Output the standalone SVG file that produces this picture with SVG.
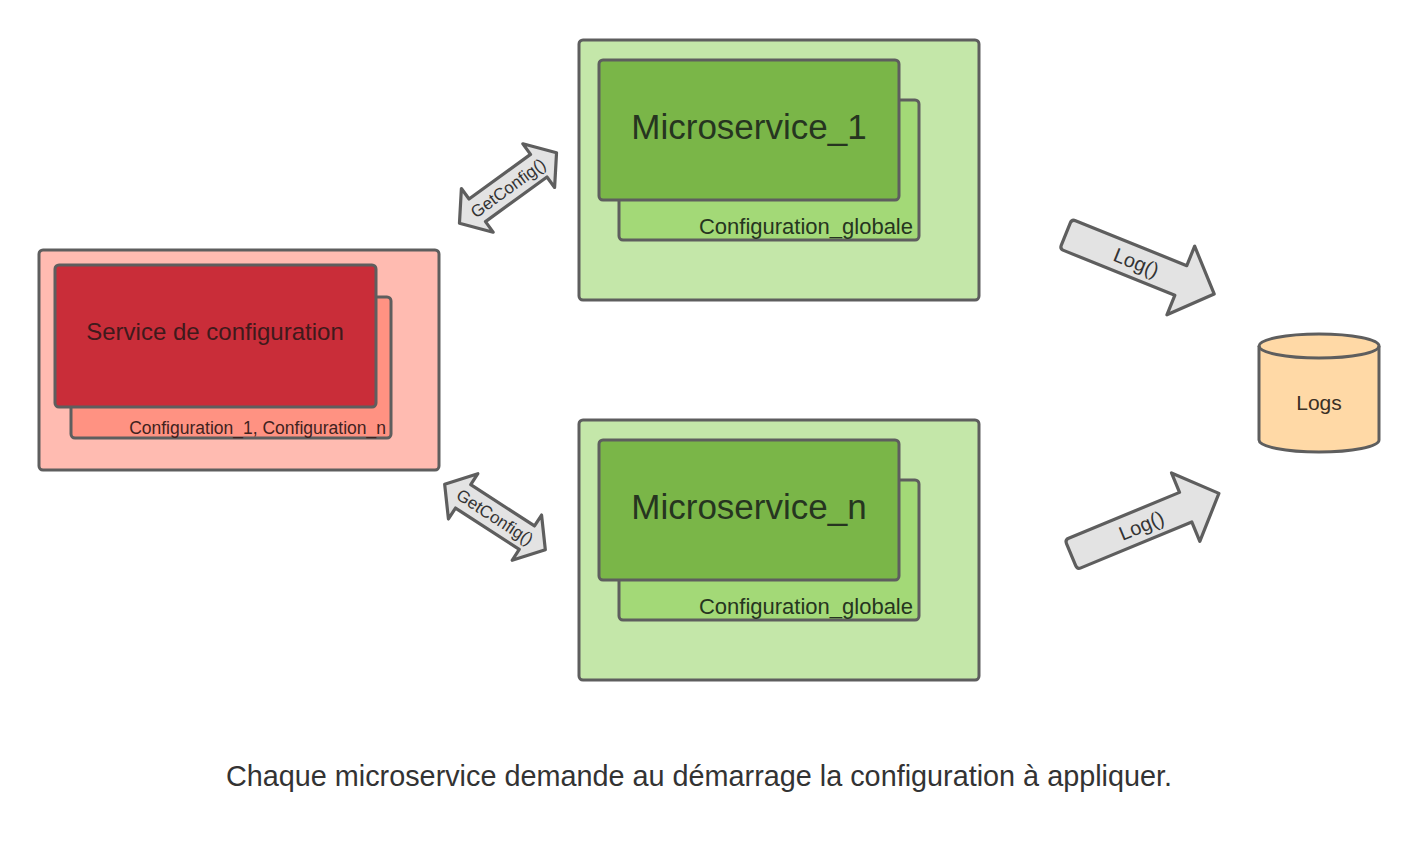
<svg xmlns="http://www.w3.org/2000/svg" width="1418" height="848" viewBox="0 0 1418 848">
<style>
.box{stroke:#5e5e5e;stroke-width:3}
.arr{fill:#e3e3e3;stroke:#5e5e5e;stroke-width:3.2;stroke-linejoin:round}
text{font-family:"Liberation Sans",Arial,sans-serif}
</style>
<defs>
<path id="dbl" d="M-60,0 L-38,-27 L-38,-14 L38,-14 L38,-27 L60,0 L38,27 L38,14 L-38,14 L-38,27 Z"/>
<path id="sgl" d="M-76,-16 Q-80,-16 -80,-12 L-80,12 Q-80,16 -76,16 L44,16 L44,37 L80,0 L44,-37 L44,-16 Z"/>
</defs>
<rect width="1418" height="848" fill="#ffffff"/>

<g id="service-config">
<rect class="box" x="39" y="250" width="400" height="220" rx="4" fill="#ffbbb1"/>
<rect class="box" x="71" y="297" width="320" height="141" rx="4" fill="#ff9282"/>
<rect class="box" x="55" y="265" width="321" height="142" rx="4" fill="#c92d39"/>
<text x="215" y="340" font-size="24" text-anchor="middle" fill="#3f1a1c">Service de configuration</text>
<text x="386" y="434" font-size="17.5" text-anchor="end" fill="#3f2220">Configuration_1, Configuration_n</text>
</g>

<g id="microservice-1">
<rect class="box" x="579" y="40" width="400" height="260" rx="4" fill="#c4e7a9"/>
<rect class="box" x="619" y="100" width="300" height="140" rx="4" fill="#a3d977"/>
<rect class="box" x="599" y="60" width="300" height="140" rx="4" fill="#7ab648"/>
<text x="749" y="139" font-size="35" text-anchor="middle" fill="#263520">Microservice_1</text>
<text x="913" y="234" font-size="22" text-anchor="end" fill="#263520">Configuration_globale</text>
</g>

<g id="microservice-n">
<rect class="box" x="579" y="420" width="400" height="260" rx="4" fill="#c4e7a9"/>
<rect class="box" x="619" y="480" width="300" height="140" rx="4" fill="#a3d977"/>
<rect class="box" x="599" y="440" width="300" height="140" rx="4" fill="#7ab648"/>
<text x="749" y="519" font-size="35" text-anchor="middle" fill="#263520">Microservice_n</text>
<text x="913" y="614" font-size="22" text-anchor="end" fill="#263520">Configuration_globale</text>
</g>

<g id="logs">
<path class="box" d="M1259,346 A60,12 0 0 1 1379,346 L1379,440 A60,12 0 0 1 1259,440 Z" fill="#ffd9a6"/>
<path class="box" d="M1259,346 A60,12 0 0 0 1379,346" fill="none"/>
<text x="1319" y="410" font-size="21" text-anchor="middle" fill="#3a3025">Logs</text>
</g>

<g id="connectors">
<g transform="translate(508,188) rotate(-36)">
<use href="#dbl" class="arr"/>
<text x="0" y="6" font-size="17" text-anchor="middle" fill="#333">GetConfig()</text>
</g>
<g transform="translate(495,517) rotate(33)">
<use href="#dbl" class="arr"/>
<text x="0" y="6" font-size="17" text-anchor="middle" fill="#333">GetConfig()</text>
</g>
<g transform="translate(1140,264) rotate(22)">
<use href="#sgl" class="arr"/>
<text x="-4" y="7" font-size="20" text-anchor="middle" fill="#333">Log()</text>
</g>
<g transform="translate(1145,524) rotate(-22.5)">
<use href="#sgl" class="arr"/>
<text x="-4" y="7" font-size="20" text-anchor="middle" fill="#333">Log()</text>
</g>
</g>

<text x="699" y="786" font-size="28.8" text-anchor="middle" fill="#333333">Chaque microservice demande au démarrage la configuration à appliquer.</text>
</svg>
